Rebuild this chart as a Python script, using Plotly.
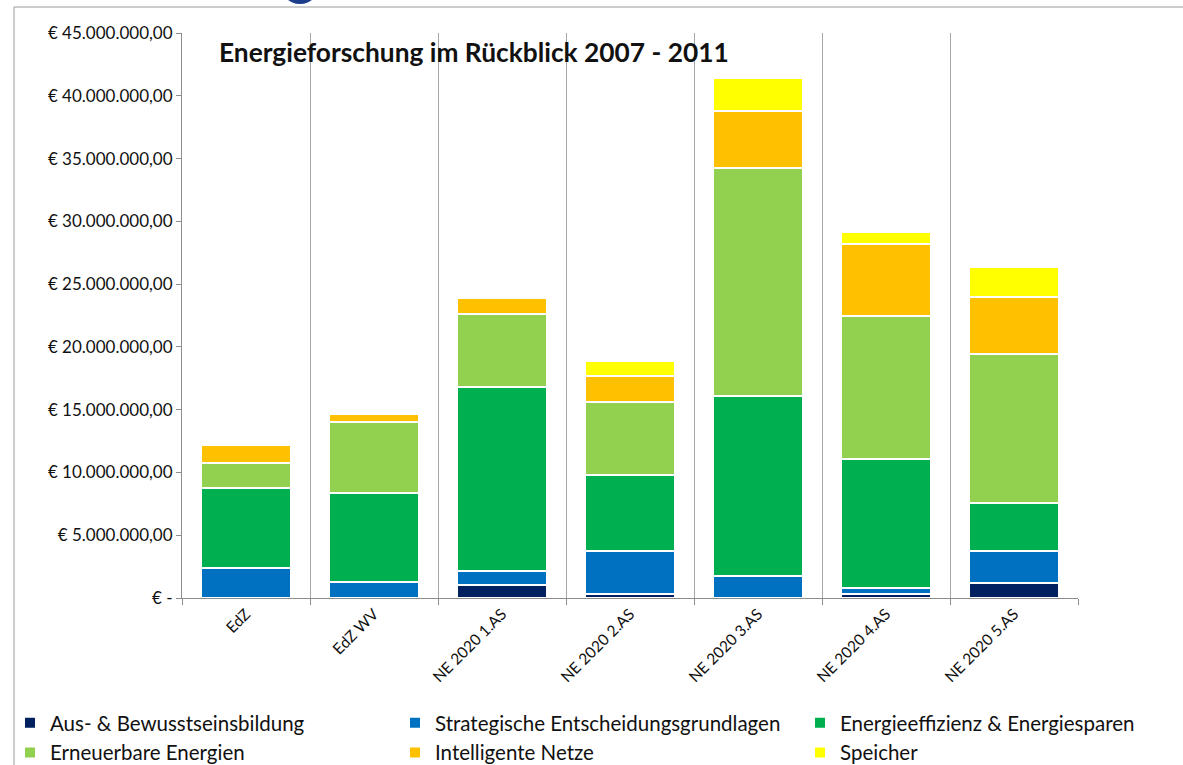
import plotly.graph_objects as go

categories = ["EdZ", "EdZ WV", "NE 2020 1.AS", "NE 2020 2.AS", "NE 2020 3.AS", "NE 2020 4.AS", "NE 2020 5.AS"]

aus = [0.0, 0.0, 1.05e6, 0.3e6, 0.0, 0.3e6, 1.2e6]
strategische = [2.35e6, 1.3e6, 1.1e6, 3.45e6, 1.75e6, 0.5e6, 2.55e6]
effizienz = [6.4e6, 7.05e6, 14.65e6, 6.05e6, 14.35e6, 10.3e6, 3.8e6]
erneuerbare = [2.0e6, 5.7e6, 5.8e6, 5.8e6, 18.15e6, 11.4e6, 11.9e6]
netze = [1.45e6, 0.6e6, 1.3e6, 2.1e6, 4.55e6, 5.7e6, 4.55e6]
speicher = [0.0, 0.0, 0.0, 1.2e6, 2.6e6, 0.95e6, 2.4e6]

series_names = ["Aus- & Bewusstseinsbildung", "Strategische Entscheidungsgrundlagen",
                "Energieeffizienz & Energiesparen", "Erneuerbare Energien",
                "Intelligente Netze", "Speicher"]
series_values = [aus, strategische, effizienz, erneuerbare, netze, speicher]
colors = ["#002060", "#0070C0", "#00B050", "#92D050", "#FFC000", "#FFFF00"]
legend_ids = ["legend", "legend2", "legend3", "legend", "legend2", "legend3"]

tick_vals = [0, 5e6, 10e6, 15e6, 20e6, 25e6, 30e6, 35e6, 40e6, 45e6]
tick_text = ["€ -", "€ 5.000.000,00", "€ 10.000.000,00", "€ 15.000.000,00", "€ 20.000.000,00",
             "€ 25.000.000,00", "€ 30.000.000,00", "€ 35.000.000,00", "€ 40.000.000,00",
             "€ 45.000.000,00"]

W, H = 1183, 765
L, R, T, B = 182, 1078, 33, 598

def px(x):
    return (x - L) / (R - L)

def py(y):
    return (B - y) / (B - T)

FONT = "Lato"
TXT = "#111111"

fig = go.Figure()
for i, (name, vals, col, lg) in enumerate(zip(series_names, series_values, colors, legend_ids)):
    fig.add_trace(go.Bar(x=categories, y=vals, name=name, legend=lg, legendgroup=str(i),
                         marker=dict(color=col, line=dict(color="white", width=2))))

def legend_cfg(xpix):
    return dict(orientation="v", x=px(xpix), xanchor="left", y=py(703), yanchor="top",
                traceorder="normal", font=dict(size=20.5, family=FONT, color=TXT),
                itemwidth=30, tracegroupgap=4, bgcolor="rgba(0,0,0,0)")

fig.update_layout(
    width=W, height=H,
    barmode="stack", bargap=0.3,
    plot_bgcolor="white", paper_bgcolor="white",
    margin=dict(l=L, r=W - R, t=T, b=H - B, autoexpand=False),
    font=dict(family=FONT, color=TXT),
    showlegend=True,
    legend=legend_cfg(10),
    legend2=legend_cfg(395),
    legend3=legend_cfg(800),
)

fig.update_xaxes(type="category", range=[-0.5, 6.5], tickson="boundaries", automargin=False,
                 showgrid=True, gridcolor="#A6A6A6", gridwidth=1,
                 showline=True, linecolor="#8C8C8C", linewidth=1,
                 ticks="outside", ticklen=6, tickcolor="#8C8C8C",
                 tickangle=-45, tickfont=dict(size=15.5, family=FONT, color=TXT))
fig.update_yaxes(range=[0, 45e6], tickvals=tick_vals, ticktext=tick_text, automargin=False,
                 showgrid=False, zeroline=False,
                 showline=True, linecolor="#8C8C8C", linewidth=1,
                 ticks="outside", ticklen=5, tickcolor="#8C8C8C",
                 tickfont=dict(size=17, family=FONT, color=TXT))

fig.add_annotation(text="<b>Energieforschung im Rückblick 2007 - 2011</b>",
                   xref="paper", yref="paper", x=px(217), y=py(52),
                   xanchor="left", yanchor="middle", showarrow=False,
                   font=dict(size=26.3, family=FONT, color=TXT))

# outer chart frame (top and left edges)
fig.add_shape(type="line", xref="paper", yref="paper",
              x0=px(14), x1=px(1183), y0=py(7), y1=py(7),
              line=dict(color="#9A9A9A", width=1), layer="below")
fig.add_shape(type="line", xref="paper", yref="paper",
              x0=px(14), x1=px(14), y0=py(7), y1=py(765),
              line=dict(color="#9A9A9A", width=1), layer="below")
# partial logo circle at top edge
fig.add_shape(type="circle", xref="paper", yref="paper",
              x0=px(280), x1=px(320), y0=py(4), y1=py(-36),
              line=dict(width=0), fillcolor="#1E3C8C")

fig.write_html("out.html")
